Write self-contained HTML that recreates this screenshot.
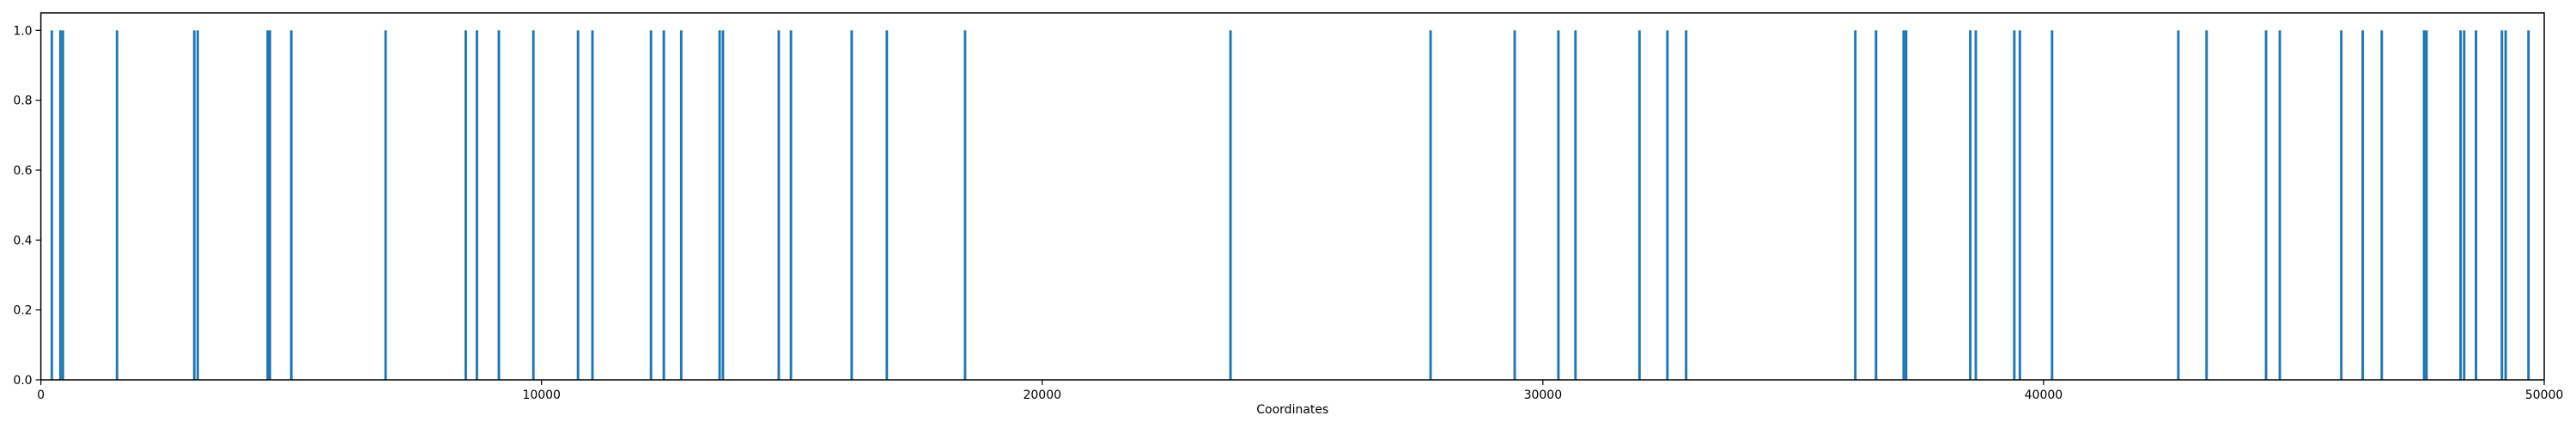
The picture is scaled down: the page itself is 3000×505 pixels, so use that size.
<!DOCTYPE html>
<html><head><meta charset="utf-8"><style>
body{margin:0;background:#fff}
svg text{font-family:"DejaVu Sans","Liberation Sans",sans-serif;font-size:14px;fill:#000}
</style></head><body>
<svg id="chart" width="3000" height="500" xmlns="http://www.w3.org/2000/svg"></svg>
<script>
const positions=[218,390,440,1521,3064,3133,4530,4575,5002,6885,8486,8709,9148,9837,10729,11017,12186,12442,12790,13557,13623,14738,14981,16195,16897,18459,23761,27757,29437,30310,30651,31929,32487,32861,36240,36654,37205,37255,38536,38647,39416,39527,40170,42692,43256,44444,44719,45947,46374,46755,47600,47650,48329,48401,48637,49155,49229,49686];
const heights=positions.map(()=>1);
const xTicks=[0,10000,20000,30000,40000,50000];
const yTicks=[0.0,0.2,0.4,0.6,0.8,1.0];
const barWidth=50;
const L=47.6,R=2963,T=15,B=442,XMAX=50000,YMAX=1.05;
const sx=v=>L+(v/XMAX)*(R-L);
const sy=v=>B-(v/YMAX)*(B-T);
const svg=document.getElementById('chart');
const NS='http://www.w3.org/2000/svg';
function mk(t,a){const e=document.createElementNS(NS,t);for(const k in a)e.setAttribute(k,a[k]);svg.appendChild(e);return e;}
positions.forEach((p,i)=>{
  const x0=sx(p-barWidth/2),x1=sx(p+barWidth/2);
  const r=mk('rect',{x:x0,y:sy(heights[i]),width:x1-x0,height:B-sy(heights[i]),fill:'#1f77b4'});
  
  
});
const frame=mk('rect',{x:L,y:T,width:R-L,height:B-T,fill:'none',stroke:'#000','stroke-width':1.5});


xTicks.forEach(t=>{
  const x=sx(t);
  const tk=mk('line',{x1:x,x2:x,y1:B,y2:B+6,stroke:'#000','stroke-width':1.2});
  
  
  const tx=mk('text',{x:x,y:B+22,'text-anchor':'middle'});
  tx.textContent=String(t);
  
  
});
yTicks.forEach(t=>{
  const y=sy(t);
  const tk=mk('line',{x1:L-6,x2:L,y1:y,y2:y,stroke:'#000','stroke-width':1.2});
  
  
  const tx=mk('text',{x:L-10,y:y+5,'text-anchor':'end'});
  tx.textContent=t.toFixed(1);
  
  
});
const xl=mk('text',{x:(L+R)/2,y:481,'text-anchor':'middle'});
xl.textContent='Coordinates';


</script>
</body></html>
